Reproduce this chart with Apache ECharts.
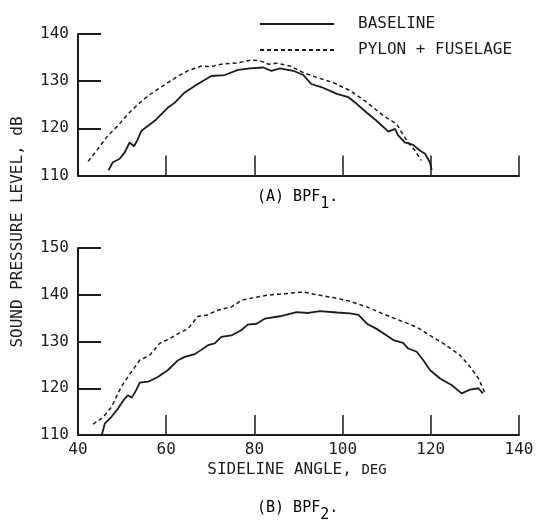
<!DOCTYPE html>
<html>
<head>
<meta charset="utf-8">
<script src="https://cdn.jsdelivr.net/npm/echarts@6/dist/echarts.min.js"></script>
<style>
  html, body { margin: 0; padding: 0; background: #fff; }
  #chart { width: 542px; height: 522px; }
</style>
</head>
<body>
<div id="chart"></div>
<script>
// Sound pressure level vs sideline angle, blade passage frequency harmonics

// (A) BPF1 — baseline
const bpf1BaselineAngle = [46.9, 47.9, 49.4, 50.6, 51.7, 52.7, 53.4, 54.4, 57.4, 60.4, 61.9, 64.2, 66.8, 70.2, 73.3, 76.3, 79.0, 82.0, 83.9, 85.8, 88.8, 91.1, 92.9, 95.3, 98.7, 101.3, 103.2, 105.5, 107.7, 110.4, 111.9, 112.6, 114.1, 116.0, 117.5, 118.7, 119.8, 120.2];
const bpf1BaselineSpl   = [111.1, 112.8, 113.5, 114.9, 117.0, 116.2, 117.4, 119.5, 121.6, 124.4, 125.4, 127.6, 129.2, 131.1, 131.3, 132.4, 132.7, 132.9, 132.2, 132.7, 132.2, 131.3, 129.4, 128.7, 127.3, 126.6, 125.2, 123.3, 121.6, 119.3, 119.9, 118.5, 117.0, 116.5, 115.3, 114.6, 112.8, 111.2];

// (A) BPF1 — pylon + fuselage
const bpf1PylonAngle = [42.3, 44.5, 46.8, 49.1, 51.3, 53.6, 55.9, 58.1, 60.4, 62.7, 64.9, 68.0, 70.2, 72.5, 76.3, 79.3, 81.3, 83.2, 85.1, 88.1, 91.1, 94.1, 97.9, 101.7, 105.5, 109.2, 112.3, 113.4, 114.9, 116.4, 117.8];
const bpf1PylonSpl   = [113.0, 115.6, 118.5, 120.6, 123.0, 125.1, 126.9, 128.3, 129.7, 131.1, 132.2, 133.2, 133.1, 133.6, 133.9, 134.5, 134.3, 133.6, 133.8, 133.2, 131.8, 130.8, 129.7, 128.0, 125.5, 122.7, 120.9, 119.1, 117.0, 115.3, 113.2];

// (B) BPF2 — baseline
const bpf2BaselineAngle = [45.4, 46.1, 47.6, 49.1, 50.6, 51.3, 52.2, 53.2, 54.0, 55.9, 58.1, 60.4, 62.7, 64.2, 66.5, 69.5, 71.0, 72.5, 74.8, 77.0, 78.5, 80.5, 82.4, 85.8, 89.6, 92.2, 94.9, 98.7, 101.7, 103.6, 105.5, 107.7, 110.0, 111.5, 113.7, 114.9, 116.8, 118.3, 119.8, 122.1, 124.7, 127.0, 128.9, 130.8, 131.8];
const bpf2BaselineSpl   = [110.0, 112.5, 113.9, 115.7, 117.8, 118.5, 118.0, 119.6, 121.2, 121.4, 122.4, 123.9, 126.0, 126.7, 127.3, 129.2, 129.6, 131.0, 131.3, 132.4, 133.6, 133.8, 134.9, 135.4, 136.3, 136.1, 136.5, 136.2, 136.0, 135.7, 133.8, 132.7, 131.3, 130.3, 129.7, 128.5, 127.8, 126.0, 123.9, 122.1, 120.7, 118.9, 119.7, 120.0, 118.9];

// (B) BPF2 — pylon + fuselage
const bpf2PylonAngle = [43.4, 45.7, 47.6, 49.8, 52.1, 54.0, 56.3, 58.5, 60.8, 62.7, 64.9, 67.2, 69.1, 71.7, 74.8, 77.0, 80.0, 82.8, 86.6, 91.1, 94.1, 97.9, 101.7, 105.5, 109.2, 113.0, 116.8, 119.8, 123.0, 126.6, 128.9, 130.8, 132.3];
const bpf2PylonSpl   = [112.3, 113.8, 116.0, 120.3, 123.5, 126.0, 127.1, 129.6, 130.6, 131.7, 132.7, 135.4, 135.6, 136.7, 137.4, 138.8, 139.4, 139.9, 140.2, 140.6, 140.0, 139.4, 138.6, 137.4, 135.9, 134.5, 133.1, 131.3, 129.5, 127.1, 124.6, 122.1, 118.9];

// Axis ticks
const angleTicks = { min: 40, max: 140, step: 20 };
const splTicksA = { min: 110, max: 140, step: 10 };
const splTicksB = { min: 110, max: 150, step: 10 };

const seriesNames = ['BASELINE', 'PYLON + FUSELAGE'];

const INK = '#1c1c1c';
const FONT = '"DejaVu Sans Mono", "Liberation Mono", monospace';

function pairs(xs, ys) { return xs.map((x, i) => [x, ys[i]]); }

function xAxisFor(gridIndex, showLabels) {
  return {
    type: 'value', gridIndex,
    min: angleTicks.min, max: angleTicks.max, interval: angleTicks.step,
    axisLine: { show: true, onZero: false, lineStyle: { color: INK, width: 2 } },
    axisTick: { show: true, inside: true, length: 20, lineStyle: { color: INK, width: 1.5 } },
    axisLabel: { show: showLabels, color: INK, fontFamily: FONT, fontSize: 16, margin: 7 },
    splitLine: { show: false }
  };
}
function yAxisFor(gridIndex, t) {
  return {
    type: 'value', gridIndex,
    min: t.min, max: t.max, interval: t.step,
    axisLine: { show: true, onZero: false, lineStyle: { color: INK, width: 2 } },
    axisTick: { show: true, inside: true, length: 23, lineStyle: { color: INK, width: 2 } },
    axisLabel: { show: true, color: INK, fontFamily: FONT, fontSize: 16, margin: 9 },
    splitLine: { show: false }
  };
}
function lineSeries(name, idx, data, dashed) {
  return {
    name, type: 'line', xAxisIndex: idx, yAxisIndex: idx,
    data, showSymbol: false, symbol: 'none', symbolSize: 0, smooth: false, silent: true,
    lineStyle: { color: INK, width: dashed ? 1.5 : 1.8, type: dashed ? [4, 3] : 'solid' },
    itemStyle: { color: INK }
  };
}

const chart = echarts.init(document.getElementById('chart'), null, { renderer: 'canvas' });

const titleRich = {
  m: { fontFamily: FONT, fontSize: 15, color: INK, lineHeight: 30, verticalAlign: 'middle' },
  s: { fontFamily: FONT, fontSize: 15, color: INK, lineHeight: 14, verticalAlign: 'bottom' }
};

chart.setOption({
  backgroundColor: '#ffffff',
  animation: false,
  grid: [
    { left: 78, right: 23, top: 34, height: 141.5, containLabel: false },
    { left: 78, right: 23, top: 248, height: 187, containLabel: false }
  ],
  xAxis: [xAxisFor(0, false), xAxisFor(1, true)],
  yAxis: [yAxisFor(0, splTicksA), yAxisFor(1, splTicksB)],
  legend: {
    data: seriesNames,
    orient: 'vertical', left: 254, top: 11,
    itemWidth: 74, itemHeight: 14, itemGap: 10,
    selectedMode: false,
    itemStyle: { color: 'rgba(0,0,0,0)', borderWidth: 0, opacity: 0 },
    textStyle: { fontFamily: FONT, fontSize: 16, color: INK, padding: [0, 0, 0, 19] }
  },
  series: [
    lineSeries(seriesNames[0], 0, pairs(bpf1BaselineAngle, bpf1BaselineSpl), false),
    lineSeries(seriesNames[1], 0, pairs(bpf1PylonAngle, bpf1PylonSpl), true),
    lineSeries(seriesNames[0], 1, pairs(bpf2BaselineAngle, bpf2BaselineSpl), false),
    lineSeries(seriesNames[1], 1, pairs(bpf2PylonAngle, bpf2PylonSpl), true)
  ],
  graphic: [
    {
      type: 'text', x: 18, y: 232, rotation: Math.PI / 2,
      style: {
        text: 'SOUND PRESSURE LEVEL, dB',
        font: '16px ' + FONT, fill: INK,
        textAlign: 'center', textVerticalAlign: 'middle'
      }
    },
    {
      type: 'text', x: 297, y: 470,
      style: {
        text: 'SIDELINE ANGLE, {d|DEG}',
        rich: { d: { fontFamily: FONT, fontSize: 14, color: INK } },
        font: '16px ' + FONT, fill: INK,
        textAlign: 'center', textVerticalAlign: 'middle'
      }
    },
    {
      type: 'text', x: 257, y: 182,
      style: { text: '{m|(A) BPF}{s|1}{m|.}', rich: titleRich }
    },
    {
      type: 'text', x: 257, y: 493,
      style: { text: '{m|(B) BPF}{s|2}{m|.}', rich: titleRich }
    }
  ]
});
</script>
</body>
</html>
